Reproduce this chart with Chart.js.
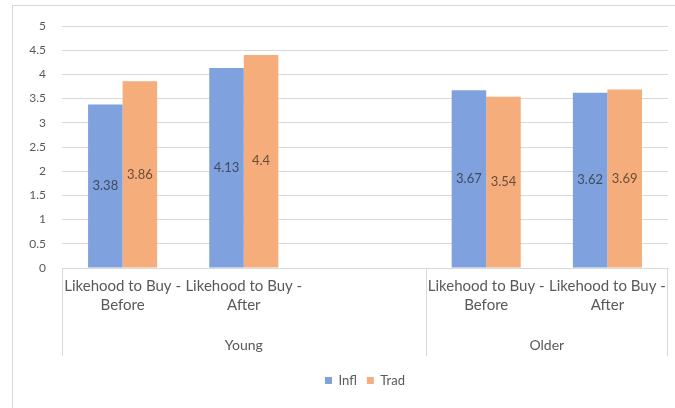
<!DOCTYPE html>
<html>
<head>
<meta charset="utf-8">
<script src="https://cdn.jsdelivr.net/npm/chart.js@4"></script>
<style>
  html, body { margin: 0; padding: 0; background: #fff; }
  #wrap { position: relative; width: 675px; height: 408px; }
  #frame { position: absolute; left: 12px; top: 5px; width: 675px; height: 410px; border: 1px solid #d9d9d9; box-sizing: border-box; }
</style>
</head>
<body>
<div id="wrap">
  <div id="frame"></div>
  <canvas id="myChart" width="675" height="408" style="position:absolute;left:0;top:0"></canvas>
</div>
<script>
// categories (third slot is an empty spacer inside the "Young" group)
const categories = [
  ['Likehood to Buy -', 'Before'],
  ['Likehood to Buy -', 'After'],
  '',
  ['Likehood to Buy -', 'Before'],
  ['Likehood to Buy -', 'After']
];
const groups = ['Young', 'Older'];
const groupSpans = [3, 2];

const inflData = [3.38, 4.13, null, 3.67, 3.62];
const tradData = [3.86, 4.4, null, 3.54, 3.69];

const yMin = 0;
const yMax = 5;
const yStep = 0.5;

const fontName = 'Lato, "Open Sans", sans-serif';
const greyText = '#595959';
const lineGrey = '#d9d9d9';

// labels written in the middle of each bar
const barLabels = {
  id: 'barLabels',
  afterDatasetsDraw(chart) {
    const ctx = chart.ctx;
    ctx.save();
    ctx.font = '13px ' + fontName;
    ctx.textAlign = 'center';
    ctx.textBaseline = 'middle';
    chart.data.datasets.forEach((ds, i) => {
      const meta = chart.getDatasetMeta(i);
      meta.data.forEach((bar, j) => {
        const v = ds.data[j];
        if (v == null) return;
        ctx.fillStyle = ds.labelColor;
        ctx.fillText(String(v), bar.x, (bar.y + bar.base) / 2);
      });
    });
    ctx.restore();
  }
};

// second row of the x axis: group names with separator lines
const groupRow = {
  id: 'groupRow',
  afterDraw(chart) {
    const x = chart.scales.x;
    const ctx = chart.ctx;
    const top = x.top;
    const bottom = top + 88;
    const edge = (i) => {
      if (i <= 0) return x.left;
      if (i >= categories.length) return x.right;
      return (x.getPixelForValue(i - 1) + x.getPixelForValue(i)) / 2;
    };
    ctx.save();
    ctx.strokeStyle = lineGrey;
    ctx.lineWidth = 1;
    ctx.fillStyle = greyText;
    ctx.font = '14px ' + fontName;
    ctx.textAlign = 'center';
    ctx.textBaseline = 'middle';
    let start = 0;
    groups.forEach((g, k) => {
      const a = edge(start);
      const b = edge(start + groupSpans[k]);
      ctx.beginPath();
      ctx.moveTo(Math.round(a) + 0.5, top);
      ctx.lineTo(Math.round(a) + 0.5, bottom);
      ctx.stroke();
      ctx.fillText(g, (a + b) / 2, top + 77);
      start += groupSpans[k];
    });
    const r = edge(categories.length);
    ctx.beginPath();
    ctx.moveTo(Math.round(r) - 0.5, top);
    ctx.lineTo(Math.round(r) - 0.5, bottom);
    ctx.stroke();
    ctx.restore();
  }
};

const ctx = document.getElementById('myChart');

new Chart(ctx, {
  type: 'bar',
  data: {
    labels: categories,
    datasets: [
      {
        label: 'Infl',
        data: inflData,
        backgroundColor: '#7fa2df',
        labelColor: '#414a5e',
        categoryPercentage: 0.57,
        barPercentage: 1.0
      },
      {
        label: 'Trad',
        data: tradData,
        backgroundColor: '#f5ad7c',
        labelColor: '#6b4c38',
        categoryPercentage: 0.57,
        barPercentage: 1.0
      }
    ]
  },
  options: {
    responsive: false,
    animation: false,
    layout: { padding: { left: 12, right: 7, top: 26, bottom: 11 } },
    plugins: {
      legend: {
        position: 'bottom',
        fullSize: false,
        labels: {
          boxWidth: 7,
          boxHeight: 7,
          padding: 10,
          color: greyText,
          font: { family: fontName, size: 13 }
        }
      },
      tooltip: { enabled: false }
    },
    scales: {
      x: {
        grid: { display: false, drawTicks: false },
        border: { color: lineGrey },
        ticks: {
          color: greyText,
          font: { family: fontName, size: 15, lineHeight: 1.3 },
          padding: 8,
          autoSkip: false,
          maxRotation: 0,
          minRotation: 0
        },
        afterFit(scale) { scale.height = 96; }
      },
      y: {
        min: yMin,
        max: yMax,
        grid: { color: lineGrey, drawTicks: false },
        border: { display: false },
        ticks: {
          stepSize: yStep,
          color: greyText,
          padding: 16,
          font: { family: fontName, size: 12 },
          callback: (v) => String(Number(v))
        },
        afterFit(scale) { scale.width = 50; }
      }
    }
  },
  plugins: [barLabels, groupRow]
});
</script>
</body>
</html>
